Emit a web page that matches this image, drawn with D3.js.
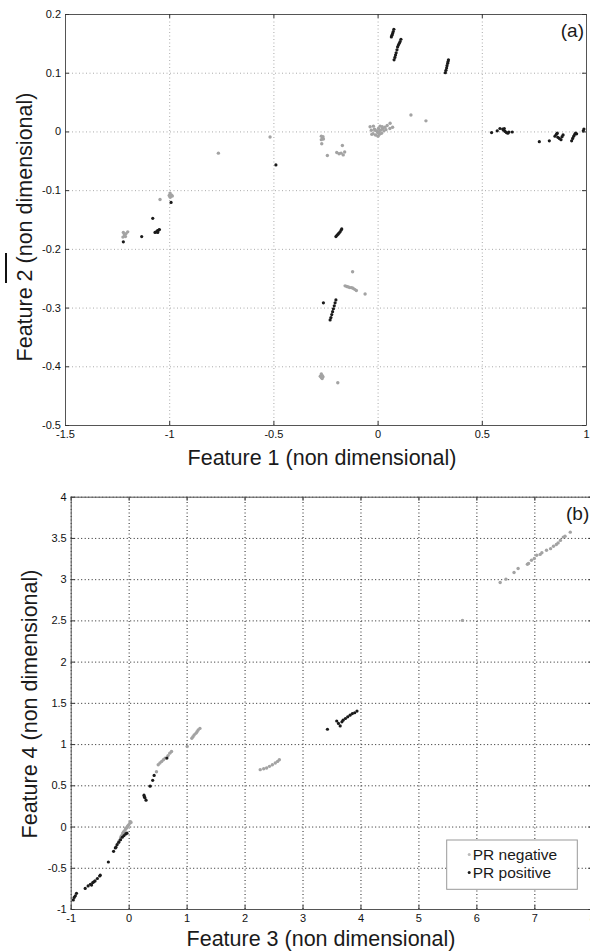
<!DOCTYPE html>
<html>
<head>
<meta charset="utf-8">
<script src="https://cdn.jsdelivr.net/npm/d3@7"></script>
<style>
  body { margin: 0; background: #fff; }
  svg { display: block; font-family: "Liberation Sans", Arial, Helvetica, sans-serif; }
</style>
</head>
<body>
<svg id="chart"></svg>
<script>
const width = 590, height = 951

// panel (a): Feature 1 vs Feature 2
const ticksAx = [-1.5, -1, -0.5, 0, 0.5, 1]
const ticksAy = [-0.5, -0.4, -0.3, -0.2, -0.1, 0, 0.1, 0.2]
const negA = [
  [-0.036,0.008],[-0.03,0.002],[-0.022,-0.004],[-0.015,0.004],[-0.01,-0.006],[-0.005,0.001],
  [0,-0.002],[0.004,0.005],[0.009,-0.005],[0.014,0.002],[0.019,-0.003],[0.024,0.005],
  [0.03,0.001],[0.035,0.007],[0.04,0.003],[0.046,0.01],[0.06,0.014],[-0.02,0.009],
  [-0.028,-0.005],[0.002,-0.008],[0.012,0.009],[0.022,0.008],[-0.012,0.002],[0.005,-0.001],
  [0.059,0.005],[0.072,0.007],[0.16,0.028],[0.232,0.018],
  [-0.27,-0.008],[-0.265,-0.011],[-0.26,-0.013],[-0.27,-0.014],[-0.262,-0.009],[-0.268,-0.021],
  [-0.169,-0.024],[-0.241,-0.041],[-0.196,-0.036],[-0.185,-0.038],[-0.175,-0.037],
  [-0.165,-0.04],[-0.158,-0.035],
  [-0.764,-0.037],[-0.516,-0.0095],
  [-0.996,-0.105],[-0.99,-0.108],[-0.995,-0.112],[-0.985,-0.11],[-1.0,-0.109],[-1.044,-0.116],
  [-1.22,-0.172],[-1.215,-0.176],[-1.21,-0.179],[-1.222,-0.18],[-1.207,-0.174],[-1.199,-0.171],
  [-0.156,-0.263],[-0.148,-0.264],[-0.14,-0.265],[-0.133,-0.266],[-0.125,-0.266],
  [-0.118,-0.267],[-0.11,-0.269],[-0.102,-0.271],[-0.12,-0.239],[-0.06,-0.277],
  [-0.27,-0.413],[-0.265,-0.416],[-0.27,-0.419],[-0.262,-0.418],[-0.275,-0.417],
  [-0.266,-0.421],[-0.191,-0.428]
]
const posA = [
  [0.066,0.161],[0.069,0.164],[0.072,0.167],[0.075,0.17],[0.078,0.174],
  [0.096,0.144],[0.1,0.147],[0.104,0.15],[0.108,0.153],[0.112,0.157],
  [0.079,0.122],[0.083,0.126],[0.086,0.13],[0.089,0.134],[0.093,0.139],
  [0.325,0.1],[0.328,0.104],[0.331,0.108],[0.333,0.112],[0.336,0.116],[0.338,0.119],[0.34,0.122],
  [0.547,-0.002],[0.574,0.001],[0.587,0.005],[0.6,0.004],[0.605,0.002],[0.608,0.005],
  [0.612,0],[0.618,-0.002],[0.625,-0.003],[0.63,-0.001],[0.646,-0.001],
  [0.776,-0.0175],[0.824,-0.016],[0.851,-0.008],[0.858,-0.005],[0.862,-0.003],[0.865,-0.01],
  [0.872,-0.012],[0.88,-0.014],[0.885,-0.009],[0.89,-0.006],
  [0.931,-0.016],[0.936,-0.012],[0.941,-0.008],[0.946,-0.005],[0.95,-0.003],[0.955,-0.004],
  [0.987,0.001],[0.99,0.004],
  [-0.488,-0.057],[-0.991,-0.121],[-1.079,-0.148],
  [-1.068,-0.172],[-1.062,-0.171],[-1.056,-0.169],[-1.05,-0.168],[-1.047,-0.167],[-1.055,-0.172],
  [-1.132,-0.179],[-1.22,-0.188],
  [-0.2,-0.179],[-0.195,-0.177],[-0.19,-0.175],[-0.185,-0.173],[-0.18,-0.171],
  [-0.175,-0.168],[-0.172,-0.166],
  [-0.26,-0.292],[-0.2,-0.287],[-0.204,-0.292],[-0.208,-0.297],[-0.212,-0.302],
  [-0.216,-0.307],[-0.22,-0.312],[-0.224,-0.317],[-0.228,-0.321]
]

// panel (b): Feature 3 vs Feature 4
const ticksBx = [-1, 0, 1, 2, 3, 4, 5, 6, 7, 8]
const ticksBy = [-1, -0.5, 0, 0.5, 1, 1.5, 2, 2.5, 3, 3.5, 4]
const negB = [
  [6.41,2.96],[6.51,3.0],[6.65,3.08],[6.72,3.13],[6.88,3.18],[6.9,3.19],[6.95,3.23],[7.0,3.25],
  [7.04,3.29],[7.1,3.3],[7.13,3.32],[7.21,3.35],[7.28,3.37],[7.33,3.4],[7.38,3.42],[7.41,3.44],
  [7.45,3.47],[7.5,3.51],[7.53,3.52],[7.62,3.57],[5.76,2.5],
  [2.27,0.69],[2.33,0.7],[2.38,0.71],[2.43,0.73],[2.48,0.75],[2.53,0.77],[2.57,0.79],[2.6,0.81],
  [1.01,0.97],[1.09,1.07],[1.11,1.09],[1.13,1.11],[1.16,1.13],[1.18,1.15],[1.2,1.17],[1.23,1.19],
  [0.48,0.665],[0.51,0.75],[0.54,0.77],[0.57,0.79],[0.6,0.81],[0.63,0.83],[0.68,0.86],
  [0.71,0.89],[0.74,0.91],
  [-0.18,-0.2],[-0.16,-0.17],[-0.14,-0.14],[-0.13,-0.12],[-0.12,-0.11],[-0.1,-0.08],
  [-0.09,-0.07],[-0.08,-0.06],[-0.06,-0.04],[-0.05,-0.02],[-0.04,-0.02],[-0.02,0],
  [-0.01,0.01],[0,0.02],[0.02,0.04],[0.03,0.06],[0.04,0.05]
]
const posB = [
  [3.43,1.18],[3.59,1.28],[3.62,1.25],[3.65,1.22],[3.68,1.27],[3.7,1.29],[3.74,1.31],
  [3.78,1.33],[3.82,1.35],[3.86,1.37],[3.9,1.38],[3.94,1.4],
  [0.265,0.38],[0.27,0.36],[0.28,0.35],[0.3,0.32],[0.37,0.49],[0.415,0.56],[0.44,0.62],[0.66,0.83],
  [-0.26,-0.3],[-0.23,-0.26],[-0.22,-0.25],[-0.2,-0.22],[-0.17,-0.19],[-0.14,-0.16],
  [-0.11,-0.13],[-0.08,-0.11],[-0.05,-0.09],[-0.03,-0.08],[-0.35,-0.43],
  [-0.75,-0.75],[-0.7,-0.72],[-0.66,-0.7],[-0.64,-0.71],[-0.62,-0.68],[-0.6,-0.67],
  [-0.58,-0.66],[-0.54,-0.63],[-0.5,-0.6],[-0.49,-0.59],
  [-0.955,-0.89],[-0.94,-0.86],[-0.92,-0.84],[-0.9,-0.81]
]

const legendLabels = ['PR negative', 'PR positive']
const negColor = '#a3a3a3', posColor = '#1a1a1a'

const svg = d3.select('#chart')
  .attr('width', width)
  .attr('height', height)
  .attr('viewBox', [0, 0, width, height])

const fmt = d => `${+d.toFixed(2)}`

const panel = (opt) => {
  const { left, top, right, bottom, xDom, yDom, xTicks, yTicks, neg, pos, gridColor } = opt
  const x = d3.scaleLinear().domain(xDom).range([left, right])
  const y = d3.scaleLinear().domain(yDom).range([bottom, top])
  const g = svg.append('g')

  // grid
  g.append('g')
    .attr('transform', `translate(0, ${bottom})`)
    .call(d3.axisBottom(x).tickValues(xTicks).tickSize(-(bottom - top)).tickFormat(''))
    .call(s => s.select('.domain').remove())
    .call(s => s.selectAll('line').attr('stroke', gridColor).attr('stroke-dasharray', '1,2.5'))
  g.append('g')
    .attr('transform', `translate(${left}, 0)`)
    .call(d3.axisLeft(y).tickValues(yTicks).tickSize(-(right - left)).tickFormat(''))
    .call(s => s.select('.domain').remove())
    .call(s => s.selectAll('line').attr('stroke', gridColor).attr('stroke-dasharray', '1,2.5'))

  // points
  g.append('g').selectAll('circle').data(neg).join('circle')
    .attr('cx', d => x(d[0])).attr('cy', d => y(d[1])).attr('r', 1.7).attr('fill', negColor)
  g.append('g').selectAll('circle').data(pos).join('circle')
    .attr('cx', d => x(d[0])).attr('cy', d => y(d[1])).attr('r', 1.6).attr('fill', posColor)

  // box + ticks on all sides
  const styleAxis = s => {
    s.select('.domain').attr('stroke', '#555')
    s.selectAll('.tick line').attr('stroke', '#333')
    s.selectAll('text').attr('font-size', 11).attr('fill', '#111')
      .attr('font-family', '"Liberation Sans", Arial, sans-serif')
  }
  g.append('g').attr('transform', `translate(0, ${bottom})`)
    .call(d3.axisBottom(x).tickValues(xTicks).tickSizeInner(-4).tickSizeOuter(0).tickPadding(5).tickFormat(fmt))
    .call(styleAxis)
  g.append('g').attr('transform', `translate(0, ${top})`)
    .call(d3.axisTop(x).tickValues(xTicks).tickSizeInner(-4).tickSizeOuter(0).tickFormat(''))
    .call(styleAxis)
  g.append('g').attr('transform', `translate(${left}, 0)`)
    .call(d3.axisLeft(y).tickValues(yTicks).tickSizeInner(-4).tickSizeOuter(0).tickPadding(4).tickFormat(fmt))
    .call(styleAxis)
  g.append('g').attr('transform', `translate(${right}, 0)`)
    .call(d3.axisRight(y).tickValues(yTicks).tickSizeInner(-4).tickSizeOuter(0).tickFormat(''))
    .call(styleAxis)

  g.append('text')
    .attr('x', opt.xLabelMid).attr('y', opt.xLabelY)
    .attr('text-anchor', 'middle').attr('font-size', 21.5).attr('fill', '#1a1a1a')
    .text(opt.xLabel)
  g.append('text')
    .attr('transform', `translate(${opt.yLabelX}, ${opt.yLabelMid}) rotate(-90)`)
    .attr('text-anchor', 'middle').attr('font-size', 21.5).attr('fill', '#1a1a1a')
    .text(opt.yLabel)
  g.append('text')
    .attr('x', opt.tagX).attr('y', top + 23)
    .attr('text-anchor', opt.tagAnchor).attr('font-size', 19).attr('fill', '#1a1a1a')
    .text(opt.tag)
  return { x, y }
}

panel({
  left: 65, top: 14, right: 586, bottom: 425,
  xDom: [-1.5, 1], yDom: [-0.5, 0.2], xTicks: ticksAx, yTicks: ticksAy,
  neg: negA, pos: posA, gridColor: '#aaa',
  xLabel: 'Feature 1 (non dimensional)', xLabelMid: 322, xLabelY: 465,
  yLabel: 'Feature 2 (non dimensional)', yLabelX: 32, yLabelMid: 227,
  tag: '(a)', tagX: 584, tagAnchor: 'end'
})

panel({
  left: 70.7, top: 496.7, right: 592.3, bottom: 909,
  xDom: [-1, 8], yDom: [-1, 4], xTicks: ticksBx, yTicks: ticksBy,
  neg: negB, pos: posB, gridColor: '#222',
  xLabel: 'Feature 3 (non dimensional)', xLabelMid: 321, xLabelY: 946,
  yLabel: 'Feature 4 (non dimensional)', yLabelX: 37, yLabelMid: 704,
  tag: '(b)', tagX: 566, tagAnchor: 'start'
})

// stray mark at left edge of the figure
svg.append('line').attr('x1', 6).attr('x2', 6).attr('y1', 253).attr('y2', 283)
  .attr('stroke', '#111').attr('stroke-width', 2)

// legend
const lg = svg.append('g').attr('transform', 'translate(446.7, 840)')
lg.append('rect').attr('width', 130.6).attr('height', 49.3)
  .attr('fill', '#fff').attr('stroke', '#999')
const items = lg.selectAll('g.item').data(legendLabels).join('g')
  .attr('transform', (d, i) => `translate(0, ${19.5 + i * 18})`)
items.append('circle').attr('cx', 22.5).attr('cy', -5).attr('r', 1.5)
  .attr('fill', (d, i) => i === 0 ? '#bbb' : posColor)
items.append('text').attr('x', 26).attr('font-size', 15.5).attr('fill', '#1a1a1a').text(d => d)
</script>
</body>
</html>
